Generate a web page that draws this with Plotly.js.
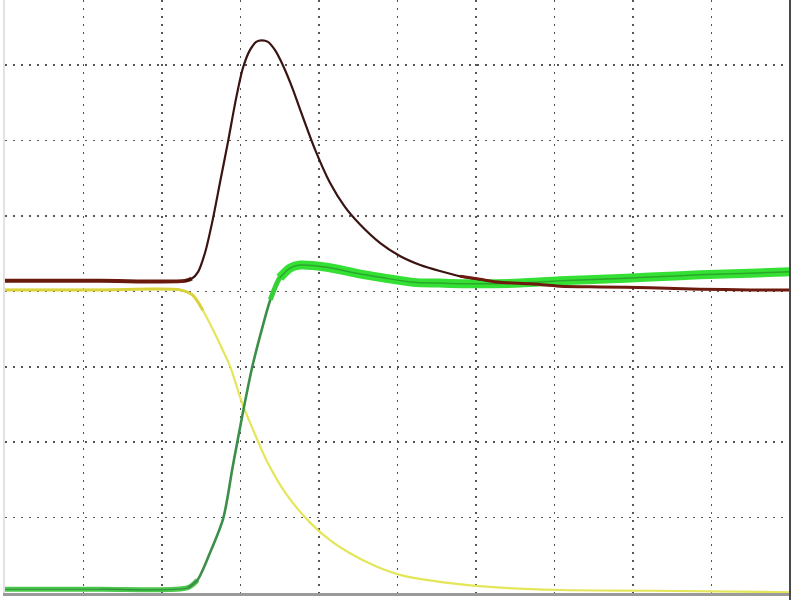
<!DOCTYPE html>
<html>
<head>
<meta charset="utf-8">
<script src="https://cdn.plot.ly/plotly-3.0.1.min.js"></script>
<style>html,body{margin:0;padding:0;background:#fff;}#chart{width:800px;height:600px;}</style>
</head>
<body>
<div id="chart"></div>
<script>
// Time in horizontal divisions, amplitude in vertical divisions
var brownX = [0, 1.21, 2.29, 2.38, 2.46, 2.55, 2.64, 2.74, 2.84, 2.94, 3.03, 3.12, 3.20, 3.27, 3.35, 3.44, 3.54, 3.66, 3.76, 3.95, 4.14, 4.33, 4.52, 4.78, 5.03, 5.29, 5.54, 5.80, 6.05, 6.31, 6.69, 7.07, 7.58, 8.22, 8.85, 9.49, 10];
var brownY = [4.14, 4.14, 4.14, 4.17, 4.26, 4.52, 4.92, 5.45, 5.98, 6.54, 6.96, 7.20, 7.31, 7.33, 7.31, 7.20, 7.00, 6.70, 6.41, 5.88, 5.44, 5.12, 4.89, 4.64, 4.47, 4.35, 4.27, 4.20, 4.16, 4.12, 4.10, 4.07, 4.06, 4.05, 4.03, 4.02, 4.02];

var yellowX = [0, 1.21, 2.23, 2.39, 2.52, 2.65, 2.76, 2.87, 3.02, 3.15, 3.34, 3.59, 3.89, 4.14, 4.39, 4.71, 5.03, 5.67, 6.31, 7.07, 8.22, 10];
var yellowY = [4.02, 4.02, 4.02, 3.95, 3.75, 3.49, 3.25, 3.00, 2.52, 2.19, 1.74, 1.30, 0.93, 0.70, 0.53, 0.36, 0.24, 0.13, 0.07, 0.04, 0.03, 0.01];

var greenX = [0, 1.21, 2.33, 2.45, 2.61, 2.78, 2.90, 3.03, 3.15, 3.27, 3.38, 3.50, 3.63, 3.76, 4.10, 4.48, 4.82, 5.20, 5.54, 6.05, 6.56, 7.07, 7.58, 8.22, 8.85, 9.49, 10];
var greenY = [0.05, 0.05, 0.07, 0.17, 0.53, 0.99, 1.67, 2.39, 3.00, 3.49, 3.89, 4.18, 4.31, 4.35, 4.32, 4.24, 4.18, 4.12, 4.11, 4.10, 4.11, 4.14, 4.16, 4.19, 4.22, 4.24, 4.26];

function seg(xs, ys, lo, hi) {
  var ox = [], oy = [];
  for (var i = 0; i < xs.length; i++) {
    if (xs[i] >= lo && xs[i] <= hi) { ox.push(xs[i]); oy.push(ys[i]); }
  }
  return {x: ox, y: oy};
}

var gBase = seg(greenX, greenY, 0, 2.45);
var gRise = seg(greenX, greenY, 2.33, 3.76);
var gMid = seg(greenX, greenY, 3.38, 3.76);
var gFlat = seg(greenX, greenY, 3.50, 10);
var bBase = seg(brownX, brownY, 0, 2.38);
var bPulse = seg(brownX, brownY, 2.29, 6.1);
var bTail = seg(brownX, brownY, 5.8, 10);
var yBase = seg(yellowX, yellowY, 0, 2.52);

function ln(c, w) { return {color: c, width: w, shape: 'spline', smoothing: 0.8}; }

var traces = [
  {x: yellowX, y: yellowY, mode: 'lines', line: ln('#e4e65a', 2.2), hoverinfo: 'skip'},
  {x: yBase.x, y: yBase.y, mode: 'lines', line: ln('#d9d23c', 3), hoverinfo: 'skip'},
  {x: gBase.x, y: gBase.y, mode: 'lines', line: ln('#4cc84c', 5), hoverinfo: 'skip'},
  {x: gBase.x, y: gBase.y, mode: 'lines', line: ln('#2f8a3a', 1.2), hoverinfo: 'skip'},
  {x: gRise.x, y: gRise.y, mode: 'lines', line: ln('#3b8f48', 2.6), hoverinfo: 'skip'},
  {x: gMid.x, y: gMid.y, mode: 'lines', line: ln('#35d035', 5), hoverinfo: 'skip'},
  {x: gFlat.x, y: gFlat.y, mode: 'lines', line: ln('#35e035', 9), hoverinfo: 'skip'},
  {x: gFlat.x, y: gFlat.y, mode: 'lines', line: ln('#2aa82a', 1.5), hoverinfo: 'skip'},
  {x: bBase.x, y: bBase.y, mode: 'lines', line: ln('#6a1a0c', 4), hoverinfo: 'skip'},
  {x: bPulse.x, y: bPulse.y, mode: 'lines', line: ln('#3a1410', 2.2), hoverinfo: 'skip'},
  {x: bTail.x, y: bTail.y, mode: 'lines', line: ln('#6e1a0e', 3), hoverinfo: 'skip'}
];

var layout = {
  width: 800, height: 600,
  margin: {l: 5, r: 10, t: 0, b: 7},
  paper_bgcolor: '#ffffff', plot_bgcolor: '#ffffff',
  showlegend: false,
  xaxis: {range: [0, 10], dtick: 1, tick0: 0, showticklabels: false, ticks: '',
          showgrid: true, gridcolor: '#555555', gridwidth: 1.5, griddash: '2px,6px',
          zeroline: false, showline: true, linecolor: '#9a9a9a', linewidth: 3, fixedrange: true},
  yaxis: {range: [0, 7.865], dtick: 1, tick0: 0, showticklabels: false, ticks: '',
          showgrid: true, gridcolor: '#555555', gridwidth: 1.5, griddash: '2px,6px',
          zeroline: false, showline: true, linecolor: '#e2e2e2', linewidth: 2, fixedrange: true},
  shapes: [
    {type: 'line', xref: 'paper', yref: 'paper', x0: 1, x1: 1, y0: -0.012, y1: 1, line: {color: '#4a4a4a', width: 2}}
  ]
};

Plotly.newPlot('chart', traces, layout, {staticPlot: true, displayModeBar: false});
</script>
</body>
</html>
